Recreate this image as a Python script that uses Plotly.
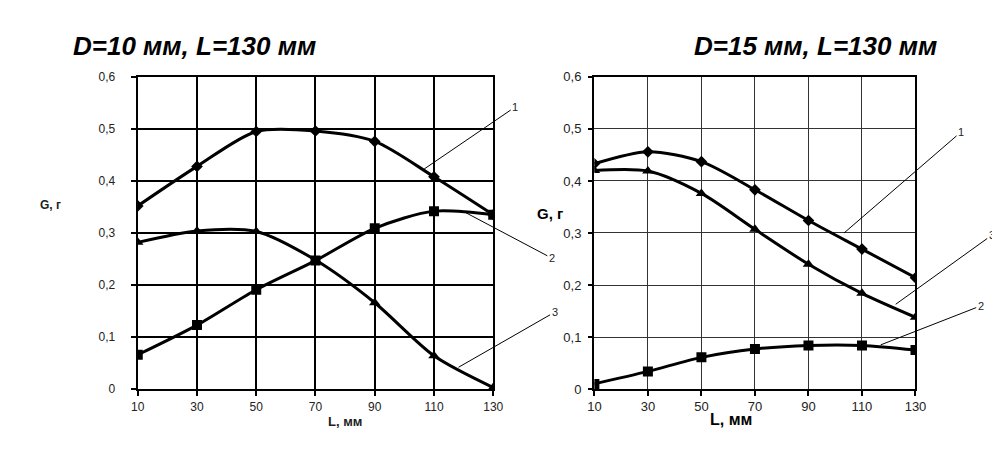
import plotly.graph_objects as go

# ---------------- data ----------------
L_vals = [10, 30, 50, 70, 90, 110, 130]

# left chart: D=10 mm
left_s1 = [0.352, 0.428, 0.495, 0.496, 0.476, 0.408, 0.335]   # diamonds, curve 1
left_s2 = [0.066, 0.123, 0.191, 0.247, 0.309, 0.342, 0.335]   # squares, curve 2
left_s3 = [0.282, 0.304, 0.303, 0.248, 0.166, 0.064, 0.003]   # triangles, curve 3

# right chart: D=15 mm
right_s1 = [0.433, 0.456, 0.437, 0.383, 0.324, 0.269, 0.214]  # diamonds, curve 1
right_s2 = [0.010, 0.034, 0.061, 0.077, 0.084, 0.084, 0.075]  # squares, curve 2
right_s3 = [0.420, 0.419, 0.376, 0.307, 0.240, 0.184, 0.138]  # triangles, curve 3

y_ticks = [0, 0.1, 0.2, 0.3, 0.4, 0.5, 0.6]
y_ticktext = ["0", "0,1", "0,2", "0,3", "0,4", "0,5", "0,6"]
x_ticks = [10, 30, 50, 70, 90, 110, 130]

titles = ["D=10 мм, L=130 мм", "D=15 мм, L=130 мм"]
y_title = "G, г"
x_title = "L, мм"

FONT = "Liberation Sans, Arial, sans-serif"

fig = go.Figure()

def add_series(x, y, symbol, size, xa, ya):
    fig.add_trace(go.Scatter(
        x=x, y=y, mode="lines+markers",
        line=dict(color="black", width=3, shape="spline", smoothing=0.8),
        marker=dict(symbol=symbol, size=size, color="black"),
        xaxis=xa, yaxis=ya, showlegend=False, hoverinfo="skip",
    ))

add_series(L_vals, left_s1, "diamond", 9, "x", "y")
add_series(L_vals, left_s2, "square", 10, "x", "y")
add_series(L_vals, left_s3, "triangle-up", 10, "x", "y")
add_series(L_vals, right_s1, "diamond", 9, "x2", "y2")
add_series(L_vals, right_s2, "square", 10, "x2", "y2")
add_series(L_vals, right_s3, "triangle-up", 10, "x2", "y2")

def xaxis(domain, anchor, fsize, gridcolor, gw, standoff):
    return dict(domain=domain, anchor=anchor, range=[10, 130], tickvals=x_ticks,
                ticks="outside", ticklen=5, tickcolor="black", tickwidth=1.5,
                showgrid=True, gridcolor=gridcolor, gridwidth=gw,
                showline=True, linecolor="black", linewidth=1.5, mirror=True,
                zeroline=False, ticklabelstandoff=standoff,
                tickfont=dict(family=FONT, size=fsize, color="#222"))

def yaxis(domain, anchor, fsize, gridcolor, gw, suffix):
    return dict(domain=domain, anchor=anchor, range=[0, 0.6], tickvals=y_ticks,
                ticktext=[t + suffix for t in y_ticktext],
                ticks="outside", ticklen=5, tickcolor="black", tickwidth=1.5,
                showgrid=True, gridcolor=gridcolor, gridwidth=gw,
                showline=True, linecolor="black", linewidth=1.5, mirror=True,
                zeroline=False,
                tickfont=dict(family=FONT, size=fsize, color="#222"))

ydom = [1 - 387 / 450, 1 - 64 / 450]
fig.update_layout(
    width=1000, height=450,
    margin=dict(l=0, r=0, t=0, b=0),
    paper_bgcolor="white", plot_bgcolor="white",
    xaxis=xaxis([0.125, 0.487], "y", 12, "black", 1.5, 1),
    yaxis=yaxis(ydom, "x", 12, "black", 1.5, "&nbsp;&nbsp;&nbsp;&nbsp;"),
    xaxis2=xaxis([0.59, 0.917], "y2", 13, "#333", 1.3, 0),
    yaxis2=yaxis(ydom, "x2", 13, "#333", 1.3, "&nbsp;"),
)

ann = []
# titles
ann.append(dict(text="<b><i>" + titles[0] + "</i></b>", x=0.057, y=1 - 32 / 450,
                xref="paper", yref="paper", xanchor="left", yanchor="middle",
                showarrow=False, font=dict(family=FONT, size=26, color="black")))
ann.append(dict(text="<b><i>" + titles[1] + "</i></b>", x=0.689, y=1 - 32 / 450,
                xref="paper", yref="paper", xanchor="left", yanchor="middle",
                showarrow=False, font=dict(family=FONT, size=26, color="black")))
# axis titles
ann.append(dict(text="<b>" + y_title + "</b>", x=0.023, y=1 - 197 / 450,
                xref="paper", yref="paper", showarrow=False,
                font=dict(family=FONT, size=12, color="#222")))
ann.append(dict(text="<b>" + x_title + "</b>", x=0.317, y=1 - 430 / 450,
                xref="paper", yref="paper", showarrow=False,
                font=dict(family=FONT, size=13, color="#222")))
ann.append(dict(text="<b>" + y_title + "</b>", x=0.5445, y=1 - 205 / 450,
                xref="paper", yref="paper", showarrow=False,
                font=dict(family=FONT, size=15, color="black")))
ann.append(dict(text="<b>" + x_title + "</b>", x=0.753, y=1 - 429 / 450,
                xref="paper", yref="paper", showarrow=False,
                font=dict(family=FONT, size=16, color="black")))

# leader-line labels: (label, x, y on curve, dx, dy in px, axes)
leaders = [
    ("1", 106.7, 0.423, 91, -62, "x", "y"),
    ("2", 120.4, 0.340, 87, 46, "x", "y"),
    ("3", 118.3, 0.042, 96, -55, "x", "y"),
    ("1", 103.3, 0.300, 117, -101, "x2", "y2"),
    ("3", 122.6, 0.163, 96, -69, "x2", "y2"),
    ("2", 117.0, 0.085, 100, -39, "x2", "y2"),
]
for lab, lx, ly, dx, dy, xa, ya in leaders:
    ann.append(dict(text=lab, x=lx, y=ly, xref=xa, yref=ya, ax=dx, ay=dy,
                    showarrow=True, arrowhead=0, arrowwidth=1, arrowcolor="black",
                    standoff=0, startstandoff=0,
                    font=dict(family=FONT, size=11, color="#222")))

fig.update_layout(annotations=ann)
fig.write_html("out.html")
